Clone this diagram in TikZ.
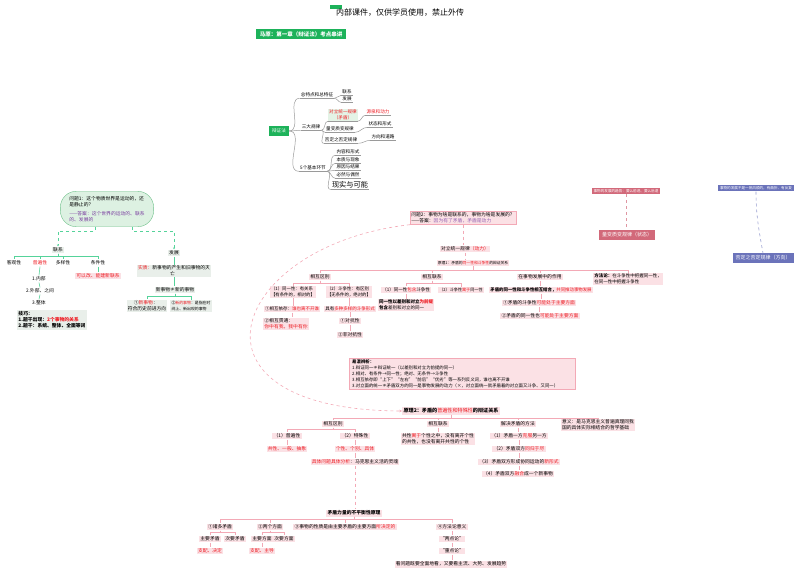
\documentclass[tikz,border=0pt]{standalone}
\usepackage{fontspec}
\setmainfont{Noto Sans CJK SC}
\usetikzlibrary{arrows.meta}
\definecolor{tgreen}{HTML}{1DB25A}
\definecolor{hired}{HTML}{EE1D24}
\definecolor{pkfill}{HTML}{FBE1E5}
\definecolor{pkline}{HTML}{F3A9B6}
\definecolor{gfill}{HTML}{E9EFEA}
\definecolor{gline}{HTML}{55D39A}
\definecolor{cfill}{HTML}{DDF1E2}
\definecolor{cline}{HTML}{6DC088}
\definecolor{mmgray}{HTML}{9A9A9A}
\definecolor{dkpink}{HTML}{D2697A}
\definecolor{dkblue}{HTML}{6B73BA}
\definecolor{ansviolet}{HTML}{7B3FA0}
\definecolor{lgfill}{HTML}{E4F3E6}
\newcommand{\redt}[1]{\textcolor{hired}{#1}}
\tikzset{
  tx/.style      = {font=\fontsize{4.8}{6}\selectfont,inner sep=1.2pt},
  mm/.style      = {font=\fontsize{4.6}{5.6}\selectfont,inner sep=1pt},
  pkbox/.style   = {tx,fill=pkfill},
  gbox/.style    = {tx,fill=gfill},
  titlebox/.style= {fill=tgreen,text=white,font=\bfseries\fontsize{5.5}{6}\selectfont,inner xsep=4pt,inner ysep=2.6pt},
  pkln/.style    = {draw=pkline,line width=0.6pt},
  pkdash/.style  = {pkln,dashed},
  gln/.style     = {draw=gline,line width=0.6pt},
  gdash/.style   = {gln,dashed},
  mmln/.style    = {draw=mmgray,line width=0.5pt}
}

\begin{document}
\begin{tikzpicture}[x=1pt,y=-1pt]
  \useasboundingbox (0,0) rectangle (800,572);

  % header
  \node[fill=tgreen,minimum width=12pt,minimum height=4pt,inner sep=0pt] (tag) at (336,7) {};
  \node[font=\fontsize{8}{9}\selectfont] (hdr) at (400,13) {内部课件，仅供学员使用，禁止外传};
  \node[titlebox] (ttl) at (301,34) {马原：第一章（辩证法）考点串讲};

  % mind map
  \node[fill=tgreen,text=white,font=\fontsize{4.6}{5.6}\selectfont,inner xsep=3pt,inner ysep=2.4pt] (bzf) at (279,131) {辩证法};
  \node[mm] (zt)  at (317,95)  {总特点和总特征};
  \node[mm] (lx0) at (347,92)  {联系};
  \node[mm] (fz0) at (347,99)  {发展};
  \node[mm] (sd)  at (311,127) {三大规律};
  \node[mm,fill=lgfill,text=hired,align=center] (dl) at (343,115) {对立统一规律\\（矛盾）};
  \node[mm,text=hired] (yq) at (378,112) {源泉和动力};
  \node[mm] (lb)  at (340,129) {量变质变规律};
  \node[mm] (zx)  at (380,124) {状态和形式};
  \node[mm] (fd)  at (341,140) {否定之否定规律};
  \node[mm] (fx)  at (383,137) {方向和道路};
  \node[mm] (wg)  at (313,168) {5个基本环节};
  \node[mm] (h1)  at (348,152) {内容和形式};
  \node[mm] (h2)  at (348,160) {本质与现象};
  \node[mm] (h3)  at (348,167) {原因与结果};
  \node[mm] (h4)  at (348,175) {必然与偶然};
  \node[mm,font=\fontsize{7.2}{8}\selectfont] (h5) at (350,185) {现实与可能};
  \foreach \n in {zt,lx0,fz0,sd,dl,yq,lb,zx,fd,fx,wg,h1,h2,h3,h4,h5}
    \draw[mmln] (\n.south west) -- (\n.south east);
  \foreach \n in {zt,sd,wg}
    \draw[mmln] (bzf.east) to[out=0,in=180] (\n.south west);
  \foreach \n in {lx0,fz0}
    \draw[mmln] (zt.south east) to[out=0,in=180] (\n.south west);
  \foreach \n in {dl,lb,fd}
    \draw[mmln] (sd.south east) to[out=0,in=180] (\n.south west);
  \foreach \n in {h1,h2,h3,h4,h5}
    \draw[mmln] (wg.south east) to[out=0,in=180] (\n.south west);
  \draw[mmln] (dl.south east) to[out=0,in=180] (yq.south west);
  \draw[mmln] (lb.south east) to[out=0,in=180] (zx.south west);
  \draw[mmln] (fd.south east) to[out=0,in=180] (fx.south west);

  % question 1 and left tree
  \node[tx,fill=cfill,draw=cline,rounded corners=16pt,align=left,inner xsep=9pt,inner ysep=5pt] (q1) at (107,209)
    {问题1：这个物质世界是运动的，还\\是静止的？\\[3pt]\textcolor{ansviolet}{——答案：这个世界的运动的、联系}\\\textcolor{ansviolet}{的、发展的}};
  \node[gbox] (lx) at (58,250) {联系};
  \node[tx] (kg) at (14,263) {客观性};
  \node[tx,text=hired] (pb) at (40,263) {普遍性};
  \node[tx] (dy) at (63,263) {多样性};
  \node[tx] (tj) at (98,263) {条件性};
  \node[tx] (n1) at (39,279) {1.内部};
  \node[tx] (n2) at (40,291) {2.外部、之间};
  \node[tx] (n3) at (39,303) {3.整体};
  \node[tx,fill=pkfill,text=hired] (kyg) at (98,276) {可以改、能建新联系};
  \node[gbox,align=left,font=\bfseries\fontsize{4.8}{6}\selectfont] (jq) at (52,320)
    {技巧：\\1.题干出现：\redt{2个事物的关系}\\2.题干：系统、整体、全面等词};
  \node[gbox] (fz) at (174,253) {发展};
  \node[gbox,align=left] (sz) at (174,271) {\redt{实质：}新事物的产生和旧事物的灭\\\hspace*{32pt}亡};
  \node[gbox] (xsw) at (175,290) {新事物≠新的事物};
  \node[gbox,align=left] (x1) at (147,306) {\hspace*{6pt}①\redt{新事物}：\\符合历史前进方向};
  \node[gbox,align=left,font=\fontsize{3.9}{5.2}\selectfont] (x2) at (191,306) {②\redt{新的事物}：是指在时\\间上、新出现的事物};
  \draw[gdash,-{Stealth[length=2pt,width=2pt]}] ([xshift=-12pt]q1.south) -- ++(0,4) -| (lx.north);
  \draw[gdash,-{Stealth[length=2pt,width=2pt]}] ([xshift=25pt]q1.south) -- ++(0,4) -| (fz.north);
  \foreach \n in {kg,pb,dy,tj}
    \draw[gln] (lx.south) -- ++(0,3) -| (\n.north);
  \draw[gln] (pb.south) -- (n1.north);
  \draw[gln] (n1.south) -- (n2.north);
  \draw[gln] (n2.south) -- (n3.north);
  \draw[gln] (tj.south) -- (kyg.north);
  \draw[gln] (fz.south) -- (sz.north);
  \draw[gln] (sz.south) -- (sz.south |- xsw.north);
  \foreach \n in {x1,x2}
    \draw[gln] (xsw.south) -- ++(0,3) -| (\n.north);

  % top right
  \node[fill=dkpink,text=white,font=\fontsize{3.6}{4}\selectfont,inner sep=1.6pt] (qs) at (626,191) {事物的发展的趋势：要么前进、要么后退};
  \node[fill=dkpink,text=white,font=\fontsize{5}{6}\selectfont,inner xsep=3pt,inner ysep=2.2pt] (lbz) at (627,235) {量变质变规律（状态）};
  \node[fill=dkblue,text=white,font=\fontsize{3.6}{4}\selectfont,inner sep=1.6pt] (bq) at (756,188) {事物的发展不是一帆风顺的，有曲折、有反复};
  \node[fill=dkblue,text=white,font=\fontsize{5}{6}\selectfont,inner xsep=3pt,inner ysep=2.2pt] (fdf) at (763,258) {否定之否定规律（方向）};
  \draw[draw=dkpink!70,dashed,line width=0.6pt] (qs.south) -- (qs.south |- lbz.north);
  \draw[draw=dkblue!70,dashed,line width=0.6pt] (bq.south) to[out=-90,in=100] (fdf.north);

  % principle 1
  \node[pkbox,draw=pkline,align=left] (q2) at (463,218) {问题2：事物为啥是联系的，事物为啥是发展的？\\——答案：\textcolor{ansviolet!80}{因为有了矛盾，矛盾是动力}};
  \node[pkbox] (dt) at (465,249) {对立统一规律\redt{（动力）}};
  \node[pkbox,font=\fontsize{3.8}{4.6}\selectfont] (yl1) at (473,263) {原理1：矛盾的\redt{同一性和斗争性}的辩证关系};
  \draw[pkdash] (q2.south) -- (q2.south |- dt.north);
  \draw[pkdash] (dt.south) -- (dt.south |- yl1.north);
  \node[pkbox] (qb) at (320,277) {相互区别};
  \node[pkbox] (xl) at (432,277) {相互联系};
  \node[pkbox] (zy) at (540,277) {在事物发展中的作用};
  \node[pkbox,align=left,font=\fontsize{4.5}{5.6}\selectfont] (ff) at (628,279) {\textbf{方法论：}在斗争性中把握同一性，\\在同一性中把握斗争性};
  \foreach \n in {qb,xl,zy,ff}
    \draw[pkln] (yl1.south) -- ++(0,4) -| (\n.north);
  \node[pkbox,align=left,font=\fontsize{4.4}{5.6}\selectfont] (ty1) at (293,292) {（1）同一性：有关系\\【有条件的，相对的】};
  \node[pkbox,align=left,font=\fontsize{4.4}{5.6}\selectfont] (dz1) at (349,292) {（2）斗争性：有区别\\【无条件的，绝对的】};
  \foreach \n in {ty1,dz1}
    \draw[pkln] (qb.south) -- ++(0,3) -| (\n.north);
  \node[pkbox,font=\fontsize{4.5}{5.6}\selectfont] (yc) at (292,309) {①相互依存：\redt{谁也离不开谁}};
  \node[pkbox,align=left] (gt) at (286,324) {②相互贯通：\\\redt{你中有我，我中有你}};
  \draw[pkln] (ty1.south) -- (ty1.south |- yc.north);
  \draw[pkln] (yc.south) -- (yc.south |- gt.north);
  \node[pkbox,font=\fontsize{4.5}{5.6}\selectfont] (dz2) at (350,309) {具有\redt{多种多样的斗争形式}};
  \node[pkbox] (dk) at (350,321) {①对抗性};
  \node[pkbox] (fdk) at (350,335) {②非对抗性};
  \draw[pkln] (dz1.south) -- (dz1.south |- dz2.north);
  \draw[pkln] (dz2.south) -- (dk.north);
  \draw[pkln] (dk.south) -- (fdk.north);
  \node[pkbox,font=\fontsize{4.5}{5.6}\selectfont] (ty2) at (406,290) {（1）同一性\redt{包含}斗争性};
  \node[pkbox,font=\fontsize{4.1}{5.2}\selectfont] (dz3) at (461,290) {（2）斗争性\redt{寓于}同一性};
  \foreach \n in {ty2,dz3}
    \draw[pkln] (xl.south) -- ++(0,3) -| (\n.north);
  \node[pkbox,align=left,font=\bfseries\fontsize{4.5}{5.6}\selectfont] (qt) at (406,305) {同一性以差别和对立\redt{为前提}\\包含\mdseries 差别和对立的同一};
  \draw[pkln] (ty2.south) -- (qt.north);
  \node[pkbox,font=\fontsize{4.4}{5.6}\selectfont] (jh) at (541,290) {\textbf{矛盾的同一性和斗争性相互结合，}\redt{共同推动事物发展}};
  \node[pkbox] (m1) at (539,303) {①矛盾的斗争性\redt{可能处于主要方面}};
  \node[pkbox] (m2) at (540,316) {②矛盾的同一性也\redt{可能处于主要方面}};
  \draw[pkln] (zy.south) -- (zy.south |- jh.north);
  \draw[pkln] (jh.south) -- (jh.south |- m1.north);
  \draw[pkln] (m1.south) -- (m1.south |- m2.north);

  % notes
  \node[pkbox,draw=pkline,align=left,anchor=north west,font=\fontsize{4.4}{6}\selectfont,inner xsep=3pt,inner ysep=1.5pt,text width=220pt] (bx) at (349,358)
    {\textbf{易混辨析：}\\
     1.辩证同一≠辩证统一（以差别和对立为前提的同一）\\
     2.相对、有条件→同一性；绝对、无条件→斗争性\\
     3.相互依存即“上下”“左右”“前后”“优劣”等一系列反义词，谁也离不开谁\\
     3.对立面的统一≠矛盾双方的同一是事物发展的动力（×，对立面统一就矛盾着的对立面又斗争、又同一）};

  % principle 2
  \node[pkbox,font=\fontsize{5.1}{6}\selectfont] (yl2) at (451,411) {\textbf{原理2：矛盾的}\redt{普遍性和特殊性}\textbf{的辩证关系}};
  \draw[pkdash,-{Stealth[length=3pt,width=2.5pt]}] (q2.south west) .. controls (230,245) and (170,410) .. (yl2.west);
  \node[pkbox] (qb2) at (333,424) {相互区别};
  \node[pkbox] (xl2) at (438,424) {相互联系};
  \node[pkbox] (jj) at (518,424) {解决矛盾的方法};
  \node[pkbox,align=left] (yy) at (598,425) {意义：是马克思主义普遍真理同我\\国的具体实际相结合的哲学基础};
  \foreach \n in {qb2,xl2,jj,yy}
    \draw[pkln] (yl2.south) -- ++(0,3) -| (\n.north);
  \node[pkbox] (pbx) at (287,436) {（1）普遍性};
  \node[pkbox] (tsx) at (355,436) {（2）特殊性};
  \foreach \n in {pbx,tsx}
    \draw[pkln] (qb2.south) -- ++(0,2) -| (\n.north);
  \node[pkbox,text=hired] (gx) at (287,449) {共性、一般、抽象};
  \node[pkbox,text=hired] (gx2) at (355,449) {个性、个别、具体};
  \node[pkbox] (jt) at (355,462) {\redt{具体问题具体分析}：马克思主义活的灵魂};
  \draw[pkln] (pbx.south) -- (gx.north);
  \draw[pkln] (tsx.south) -- (gx2.north);
  \draw[pkln] (gx2.south) -- (jt.north);
  \node[pkbox,align=left] (gxy) at (438,439) {共性\redt{寓于}个性之中，没有离开个性\\的共性，也没有离开共性的个性};
  \draw[pkln] (xl2.south) -- (gxy.north);
  \node[pkbox] (j1) at (519,436) {（1）矛盾一方\redt{克服}另一方};
  \node[pkbox] (j2) at (519,449) {（2）矛盾双方\redt{同归于尽}};
  \node[pkbox] (j3) at (519,462) {（3）矛盾双方形成协同运动的\redt{新形式}};
  \node[pkbox] (j4) at (518,474) {（4）矛盾双方\redt{融合}成一个新事物};
  \draw[pkln] (jj.south) -- (jj.south |- j1.north);
  \draw[pkln] (j1.south) -- (j1.south |- j2.north);
  \draw[pkln] (j2.south) -- (j2.south |- j3.north);
  \draw[pkln] (j3.south) -- (j3.south |- j4.north);

  % imbalance principle
  \node[pkbox] (bph) at (354,513) {\textbf{矛盾力量的不平衡性原理}};
  \draw[pkdash] (jt.south) -- (jt.south |- bph.north);
  \node[pkbox] (zd) at (220,527) {①诸多矛盾};
  \node[pkbox] (lg) at (270,527) {②两个方面};
  \node[pkbox] (xz) at (345,527) {③事物的性质是由主要矛盾的主要方面\redt{所决定的}};
  \node[pkbox] (ffl) at (452,527) {④方法论意义};
  \foreach \n in {zd,lg,xz,ffl}
    \draw[pkln] (bph.south) -- ++(0,3) -| (\n.north);
  \node[pkbox] (zy1) at (210,539) {主要矛盾};
  \node[pkbox] (cy1) at (235,539) {次要矛盾};
  \node[pkbox,text=hired] (zp1) at (210,551) {支配、决定};
  \foreach \n in {zy1,cy1}
    \draw[pkln] (zd.south) -- ++(0,2) -| (\n.north);
  \draw[pkln] (zy1.south) -- (zp1.north);
  \node[pkbox] (zf) at (262,539) {主要方面};
  \node[pkbox] (cf) at (284,539) {次要方面};
  \node[pkbox,text=hired] (zp2) at (262,551) {支配、主导};
  \foreach \n in {zf,cf}
    \draw[pkln] (lg.south) -- ++(0,2) -| (\n.north);
  \draw[pkln] (zf.south) -- (zp2.north);
  \node[pkbox] (ld) at (452,539) {“两点论”};
  \node[pkbox] (zdl) at (452,551) {“重点论”};
  \node[pkbox] (kw) at (451,564) {看问题既要全面地看，又要看主流、大势、发展趋势};
  \draw[pkln] (ffl.south) -- (ld.north);
  \draw[pkln] (ld.south) -- (zdl.north);
  \draw[pkln] (zdl.south) -- (zdl.south |- kw.north);
\end{tikzpicture}
\end{document}
